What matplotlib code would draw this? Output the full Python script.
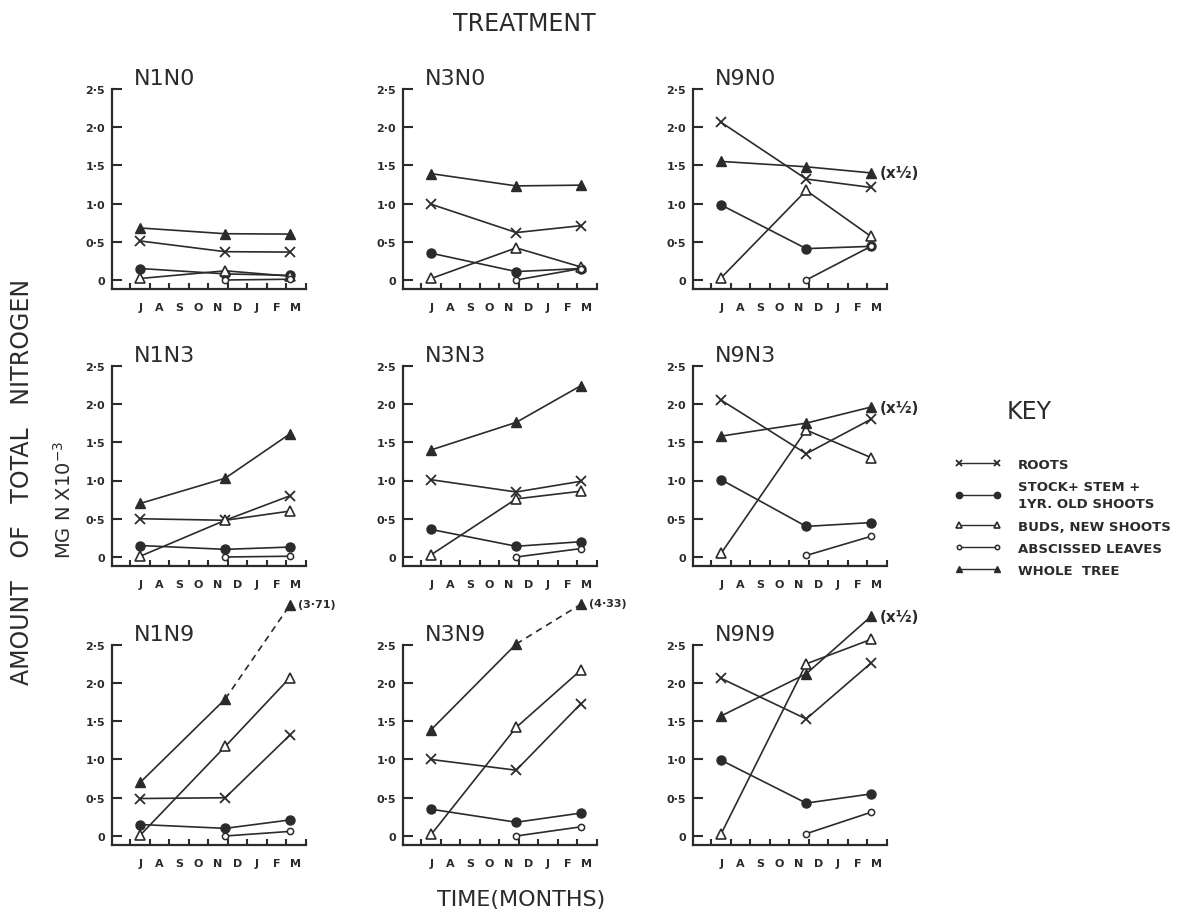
import numpy as np
import matplotlib
matplotlib.use("Agg")
import matplotlib.pyplot as plt
from matplotlib.lines import Line2D

plt.rcParams['font.family'] = ['DejaVu Sans']

INK = '#2b2b2b'
W, H = 1178, 920

panels = ["N1N0", "N3N0", "N9N0", "N1N3", "N3N3", "N9N3", "N1N9", "N3N9", "N9N9"]
months = ["J", "A", "S", "O", "N", "D", "J", "F", "M"]
# sampling dates, months counted from the start of July
sample_x = [0.5, 4.87, 8.2]

roots = [
    [0.51, 0.37, 0.365],
    [0.99, 0.62, 0.71],
    [2.06, 1.32, 1.21],
    [0.50, 0.48, 0.80],
    [1.01, 0.85, 0.99],
    [2.05, 1.35, 1.80],
    [0.49, 0.50, 1.32],
    [1.00, 0.86, 1.73],
    [2.06, 1.53, 2.26],
]
stock = [
    [0.15, 0.08, 0.06],
    [0.35, 0.11, 0.15],
    [0.98, 0.41, 0.44],
    [0.15, 0.10, 0.13],
    [0.36, 0.14, 0.20],
    [1.01, 0.40, 0.45],
    [0.15, 0.10, 0.21],
    [0.35, 0.18, 0.30],
    [0.99, 0.43, 0.55],
]
buds = [
    [0.02, 0.12, 0.05],
    [0.02, 0.42, 0.17],
    [0.03, 1.17, 0.57],
    [0.01, 0.48, 0.60],
    [0.03, 0.76, 0.86],
    [0.05, 1.66, 1.30],
    [0.01, 1.17, 2.07],
    [0.02, 1.42, 2.17],
    [0.03, 2.25, 2.57],
]
# no abscissed leaves in July
leaves = [
    [np.nan, 0.00, 0.01],
    [np.nan, 0.00, 0.15],
    [np.nan, 0.00, 0.44],
    [np.nan, 0.00, 0.01],
    [np.nan, 0.00, 0.11],
    [np.nan, 0.02, 0.27],
    [np.nan, 0.00, 0.06],
    [np.nan, 0.00, 0.12],
    [np.nan, 0.03, 0.31],
]
# last two N?N9 March points are off scale: drawn height, real value in the note
whole = [
    [0.68, 0.605, 0.60],
    [1.39, 1.23, 1.24],
    [1.55, 1.48, 1.40],
    [0.70, 1.03, 1.61],
    [1.40, 1.76, 2.24],
    [1.58, 1.75, 1.96],
    [0.70, 1.79, 3.02],
    [1.39, 2.51, 3.03],
    [1.57, 2.12, 2.87],
]
whole_note = ["", "", "(x½)", "", "", "(x½)", "(3·71)", "(4·33)", "(x½)"]
whole_offscale = [False, False, False, False, False, False, True, True, False]

yticks = [0, 0.5, 1.0, 1.5, 2.0, 2.5]
ytick_labels = ["0", "0·5", "1·0", "1·5", "2·0", "2·5"]

key_labels = ["ROOTS", "STOCK+ STEM +\n1YR. OLD SHOOTS", "BUDS, NEW SHOOTS",
              "ABSCISSED LEAVES", "WHOLE  TREE"]

styles = {
    "roots": dict(marker='x', ms=7, mew=1.3, mec=INK, mfc=INK),
    "stock": dict(marker='o', ms=6.5, mew=1.0, mec=INK, mfc=INK),
    "buds": dict(marker='^', ms=6.5, mew=1.2, mec=INK, mfc='white'),
    "leaves": dict(marker='o', ms=4.5, mew=1.1, mec=INK, mfc='white'),
    "whole": dict(marker='^', ms=7, mew=1.0, mec=INK, mfc=INK),
}

# layout in pixels
col_left = [112, 403, 693]
row_zero = [281, 558, 837]
PX_MONTH = 19.45
PX_UNIT = 76.5
XLIM = (-0.95, 9.0)
YLIM = (-0.12, 2.5)

fig = plt.figure(figsize=(W / 100, H / 100), dpi=100)

for i, name in enumerate(panels):
    r, c = divmod(i, 3)
    left = col_left[c] / W
    bottom = 1 - (row_zero[r] + (0 - YLIM[0]) * PX_UNIT) / H
    ax = fig.add_axes([left, bottom, (XLIM[1] - XLIM[0]) * PX_MONTH / W,
                       (YLIM[1] - YLIM[0]) * PX_UNIT / H])
    ax.set_facecolor('none')
    ax.set_xlim(*XLIM)
    ax.set_ylim(*YLIM)

    lw = 1.2
    ax.plot(sample_x, roots[i], color=INK, lw=lw, clip_on=False, zorder=3, **styles["roots"])
    ax.plot(sample_x, stock[i], color=INK, lw=lw, clip_on=False, zorder=3, **styles["stock"])
    ax.plot(sample_x, buds[i], color=INK, lw=lw, clip_on=False, zorder=3, **styles["buds"])
    ax.plot(sample_x, leaves[i], color=INK, lw=lw, clip_on=False, zorder=3, **styles["leaves"])
    if whole_offscale[i]:
        ax.plot(sample_x[:2], whole[i][:2], color=INK, lw=lw, clip_on=False, zorder=3)
        ax.plot(sample_x[1:], whole[i][1:], color=INK, lw=lw, ls=(0, (4, 3)),
                clip_on=False, zorder=3)
        ax.plot(sample_x, whole[i], ls='none', clip_on=False, zorder=4, **styles["whole"])
    else:
        ax.plot(sample_x, whole[i], color=INK, lw=lw, clip_on=False, zorder=3, **styles["whole"])

    note = whole_note[i]
    if note:
        big = note == "(x½)"
        ax.annotate(note, (sample_x[2], whole[i][2]), xytext=(6, 0 if big else 1),
                    textcoords='offset points', ha='left', va='center',
                    fontsize=11 if big else 8, fontweight='bold', color=INK,
                    annotation_clip=False)

    ax.set_xticks(range(10))
    ax.set_xticklabels([])
    ax.set_xticks(np.arange(0.5, 9), minor=True)
    ax.set_xticklabels(months, minor=True)
    ax.tick_params(axis='x', which='major', direction='in', length=4, width=1.5, color=INK)
    ax.tick_params(axis='x', which='minor', length=0, pad=9, labelsize=8, labelcolor=INK)
    for t in ax.get_xticklabels(minor=True):
        t.set_fontweight('bold')

    ax.set_yticks(yticks)
    ax.set_yticklabels(ytick_labels, fontweight='bold')
    ax.tick_params(axis='y', direction='in', length=7, width=1.5, color=INK,
                   pad=5, labelsize=8, labelcolor=INK)

    for s in ['top', 'right']:
        ax.spines[s].set_visible(False)
    for s in ['left', 'bottom']:
        ax.spines[s].set_linewidth(1.6)
        ax.spines[s].set_color(INK)

    ax.text(0.115, 1.055, name, transform=ax.transAxes, fontsize=16,
            ha='left', va='center', color=INK)

# key
handles = [Line2D([], [], color=INK, lw=1.0, **styles[k])
           for k in ["roots", "stock", "buds", "leaves", "whole"]]
leg = fig.legend(handles, key_labels, loc='upper left',
                 bbox_to_anchor=(948 / W, 1 - 452 / H), frameon=False,
                 borderpad=0, labelspacing=0.7, handlelength=3.5,
                 handletextpad=1.3, numpoints=2, markerscale=0.7,
                 prop=dict(size=9.5, weight='bold'))
for t in leg.get_texts():
    t.set_color(INK)
    t.set_linespacing(1.45)
fig.text(1029 / W, 1 - 412 / H, "KEY", fontsize=17, ha='center', va='center', color=INK)

fig.text(524 / W, 1 - 24 / H, "TREATMENT", fontsize=17, ha='center', va='center', color=INK)
fig.text(521 / W, 1 - 900 / H, "TIME(MONTHS)", fontsize=16, ha='center', va='center', color=INK)
fig.text(22 / W, 1 - 482 / H, "AMOUNT   OF   TOTAL   NITROGEN", rotation=90,
         fontsize=17, ha='center', va='center', color=INK)
fig.text(64 / W, 1 - 500 / H, r"MG N X10$^{-3}$", rotation=90,
         fontsize=14, ha='center', va='center', color=INK)

fig.savefig("out.png", dpi=100, facecolor='white')
